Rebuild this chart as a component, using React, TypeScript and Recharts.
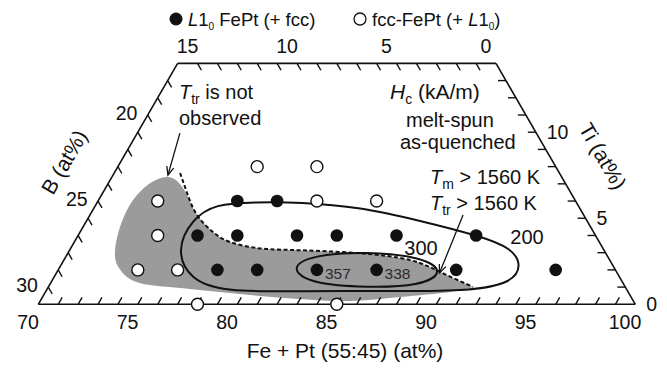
import { ComposedChart, XAxis, YAxis, Scatter, Line, ReferenceLine } from 'recharts';

// every composition below is [Fe+Pt, Ti] in at%, B is the balance
const L10_POINTS: [number, number][] = [
  [78, 2], [80, 2], [83, 2], [86, 2], [90, 2], [95, 2],
  [76, 4], [78, 4], [81, 4], [83, 4], [86, 4], [90, 4],
  [77, 6], [79, 6],
];

const FCC_POINTS: [number, number][] = [
  [78, 0], [85, 0],
  [74, 2], [76, 2],
  [74, 4],
  [73, 6], [81, 6], [84, 6],
  [77, 8], [80, 8],
];

const HC_VALUES = [
  { fept: 83, ti: 2, hc: 357 },
  { fept: 86, ti: 2, hc: 338 },
];

// Hc contours (smoothed closed curves)
const HC_200: [number, number][] = [
  [75.34, 3.16], [75.25, 4.96], [75.97, 5.83], [77.92, 5.94], [80.18, 5.94], [83.34, 5.65],
  [86.84, 4.84], [90.21, 3.97], [92.16, 3.27], [93.19, 2.23], [93.16, 1.24], [91.31, 0.77],
  [87.79, 0.77], [82.76, 0.77], [79.02, 0.72], [76.92, 1.41],
];

const HC_300: [number, number][] = [
  [89.5, 1.88], [88.65, 1.06], [86.03, 0.98], [83.16, 1.18],
  [81.56, 2.08], [82.32, 2.87], [84.98, 3.07], [87.91, 2.75],
];

// Ttr boundary (dashed)
const TTR_BOUNDARY: [number, number][] = [
  [73.31, 7.63], [74.24, 6.47], [75.38, 5.19], [76.68, 4.2], [77.82, 3.62], [79.35, 3.27],
  [81.07, 3.16], [84.52, 2.98], [87.39, 2.57], [89.25, 1.88], [91.34, 1.01],
];

// region where Ttr is not observed (grey)
const NO_TTR_REGION: [number, number][] = [
  [91.34, 1.01], [89.25, 1.88], [87.39, 2.57], [84.52, 2.98], [81.07, 3.16], [79.35, 3.27],
  [77.82, 3.62], [76.68, 4.2], [75.38, 5.19], [74.3, 6.35], [73.47, 7.11], [72.82, 7.4],
  [72.16, 7.11], [71.73, 6.06], [71.86, 4.49], [72.36, 2.98], [73.0, 2.11], [73.87, 1.47],
  [75.05, 1.12], [77.18, 0.89], [80.37, 0.54], [83.0, 0.31], [85.57, 0.19], [87.96, 0.42],
  [90.33, 0.72], [91.34, 1.01],
];

const ARROW_NOT_OBSERVED: [number, number][] = [[72.14, 9.95], [72.76, 7.51]];
const ARROW_TTR: [number, number][] = [[88.75, 5.19], [89.25, 1.82]];

// tick labels
const FEPT_LABELS = [70, 75, 80, 85, 90, 95, 100];
const B_LEFT_LABELS = [20, 25, 30];
const B_TOP_LABELS = [15, 10, 5, 0];
const TI_LABELS = [0, 5, 10];

const FEPT_MIN = 70;
const TI_MAX = 14;
const TICK = 0.4;

const W = 667;
const H = 369;
const X_DOMAIN: [number, number] = [68.075, 101.593];
const Y_DOMAIN: [number, number] = [-3.759, 17.682];
const FONT = '"Liberation Sans", Arial, Helvetica, sans-serif';
const INK = '#111';

// ternary -> plot coordinates (equilateral grid)
const comp = (fept: number, ti: number) => ({ x: fept + ti / 2, y: ti });
const toData = (pts: [number, number][]) => pts.map(([f, t]) => comp(f, t));

const frame = [comp(70, 0), comp(100, 0), comp(100 - TI_MAX, TI_MAX), comp(FEPT_MIN, TI_MAX)];

// minor ticks every 1 at%, each pointing inward along its grid line
const tickSegs: { x: number; y: number }[][] = [];
for (let f = 71; f < 100; f++) tickSegs.push([comp(f, 0), comp(f, TICK)]);
for (let t = 1; t < TI_MAX; t++) tickSegs.push([comp(FEPT_MIN, t), comp(FEPT_MIN + TICK, t - TICK)]);
for (let b = 1; b < 100 - FEPT_MIN - TI_MAX; b++) {
  const f = 100 - b - TI_MAX;
  tickSegs.push([comp(f, TI_MAX), comp(f + TICK, TI_MAX - TICK)]);
}
for (let t = 1; t < TI_MAX; t++) tickSegs.push([comp(100 - t, t), comp(100 - t - TICK, t)]);

const bottomLabels = FEPT_LABELS.map((f) => ({ ...comp(f, -1.03), label: f }));
const leftLabels = B_LEFT_LABELS.map((b) => {
  const t = 100 - FEPT_MIN - b;
  return { ...comp(FEPT_MIN - 1.13, t + 1.13), label: b };
});
const topLabels = B_TOP_LABELS.map((b) => ({ ...comp(100 - b - TI_MAX - 1, TI_MAX + 1), label: b }));
const rightLabels = TI_LABELS.map((t) => ({ ...comp(100 - t + 0.55, t), label: t }));

const textShape = (anchor: 'start' | 'middle' | 'end') => (p: any) => (
  <text x={p.cx} y={p.cy} textAnchor={anchor} dominantBaseline="central" fontSize={19.5} fill={INK} fontFamily={FONT}>
    {p.payload.label}
  </text>
);

const arrowDot = (p: any) => {
  if (p.index !== 1 || !p.points || p.points.length < 2) return <g key={`a-${p.index}`} />;
  const a = p.points[0];
  const ang = Math.atan2(p.cy - a.y, p.cx - a.x);
  const len = 9;
  const spread = 0.4;
  const x1 = p.cx - len * Math.cos(ang - spread);
  const y1 = p.cy - len * Math.sin(ang - spread);
  const x2 = p.cx - len * Math.cos(ang + spread);
  const y2 = p.cy - len * Math.sin(ang + spread);
  return (
    <path key={`a-${p.index}`} d={`M${x1},${y1}L${p.cx},${p.cy}L${x2},${y2}`} fill="none" stroke={INK} strokeWidth={1.3} />
  );
};

export default function App() {
  return (
    <div style={{ position: 'absolute', left: 0, top: 0, width: W, height: H, background: '#fff', fontFamily: FONT }}>
      <style>{`.no-ttr path.recharts-curve { fill: #9b9b9b; stroke: none; }`}</style>
      <ComposedChart width={W} height={H} margin={{ top: 0, right: 0, bottom: 0, left: 0 }}>
        <XAxis type="number" dataKey="x" domain={X_DOMAIN} allowDataOverflow hide />
        <YAxis type="number" dataKey="y" domain={Y_DOMAIN} allowDataOverflow hide />

        <Line data={toData(NO_TTR_REGION)} dataKey="y" type="natural" className="no-ttr" stroke="none"
          dot={false} activeDot={false} isAnimationActive={false} />
        <Line data={toData(HC_200)} dataKey="y" type="basisClosed" stroke={INK} strokeWidth={2}
          dot={false} activeDot={false} isAnimationActive={false} />
        <Line data={toData(HC_300)} dataKey="y" type="basisClosed" stroke={INK} strokeWidth={2}
          dot={false} activeDot={false} isAnimationActive={false} />
        <Line data={toData(TTR_BOUNDARY)} dataKey="y" type="natural" stroke={INK} strokeWidth={2}
          strokeDasharray="4 2.5" dot={false} activeDot={false} isAnimationActive={false} />
        <Line data={toData(ARROW_NOT_OBSERVED)} dataKey="y" type="linear" stroke={INK} strokeWidth={1.3}
          dot={arrowDot} activeDot={false} isAnimationActive={false} />
        <Line data={toData(ARROW_TTR)} dataKey="y" type="linear" stroke={INK} strokeWidth={1.3}
          dot={arrowDot} activeDot={false} isAnimationActive={false} />

        {tickSegs.map((s, i) => (
          <Line key={`tick${i}`} data={s} dataKey="y" type="linear" stroke={INK} strokeWidth={1.4}
            dot={false} activeDot={false} isAnimationActive={false} />
        ))}

        {frame.map((p, i) => (
          <ReferenceLine key={`f${i}`} segment={[p, frame[(i + 1) % frame.length]]} stroke={INK}
            strokeWidth={1.6} ifOverflow="visible" />
        ))}

        <Scatter data={FCC_POINTS.map(([f, t]) => comp(f, t))} isAnimationActive={false}
          shape={(p: any) => <circle cx={p.cx} cy={p.cy} r={6} fill="#fff" stroke={INK} strokeWidth={1.4} />} />
        <Scatter data={L10_POINTS.map(([f, t]) => comp(f, t))} isAnimationActive={false}
          shape={(p: any) => <circle cx={p.cx} cy={p.cy} r={6.3} fill={INK} />} />
        <Scatter data={HC_VALUES.map((v) => ({ ...comp(v.fept, v.ti), label: v.hc }))} isAnimationActive={false}
          shape={(p: any) => (
            <text x={p.cx + 8} y={p.cy + 3.5} dominantBaseline="central" fontSize={15.5} fill="#2a2a2a" fontFamily={FONT}>
              {p.payload.label}
            </text>
          )} />

        <Scatter data={bottomLabels} isAnimationActive={false} shape={textShape('middle')} />
        <Scatter data={leftLabels} isAnimationActive={false} shape={textShape('middle')} />
        <Scatter data={topLabels} isAnimationActive={false} shape={textShape('middle')} />
        <Scatter data={rightLabels} isAnimationActive={false} shape={textShape('start')} />
      </ComposedChart>

      <svg width={W} height={H} style={{ position: 'absolute', left: 0, top: 0, pointerEvents: 'none' }}
        fontFamily={FONT} fill={INK}>
        {/* legend */}
        <circle cx={176} cy={19} r={6.5} fill={INK} />
        <text x={188} y={25.5} fontSize={18.5}>
          <tspan fontStyle="italic">L</tspan>1<tspan fontSize={10} dy={4}>0</tspan>
          <tspan dy={-4}> FePt (+ fcc)</tspan>
        </text>
        <circle cx={360} cy={19} r={6} fill="#fff" stroke={INK} strokeWidth={1.3} />
        <text x={372} y={25.5} fontSize={18.5}>
          fcc-FePt (+ <tspan fontStyle="italic">L</tspan>1<tspan fontSize={10} dy={4}>0</tspan>
          <tspan dy={-4}>)</tspan>
        </text>

        {/* annotations */}
        <text x={179} y={99} fontSize={20}>
          <tspan fontStyle="italic">T</tspan><tspan fontSize={14} dy={5}>tr</tspan>
          <tspan dy={-5}> is not</tspan>
        </text>
        <text x={179} y={125} fontSize={20}>observed</text>

        <text x={390} y={99} fontSize={21}>
          <tspan fontStyle="italic">H</tspan><tspan fontSize={14} dy={5}>c</tspan>
          <tspan dy={-5}> (kA/m)</tspan>
        </text>
        <text x={406} y={127} fontSize={20}>melt-spun</text>
        <text x={400} y={149} fontSize={20}>as-quenched</text>

        <text x={430} y={184} fontSize={20}>
          <tspan fontStyle="italic">T</tspan><tspan fontSize={14} dy={5}>m</tspan>
          <tspan dy={-5}> &gt; 1560 K</tspan>
        </text>
        <text x={430} y={210} fontSize={20}>
          <tspan fontStyle="italic">T</tspan><tspan fontSize={14} dy={5}>tr</tspan>
          <tspan dy={-5}> &gt; 1560 K</tspan>
        </text>

        <text x={421} y={255} fontSize={20} textAnchor="middle">300</text>
        <text x={527} y={244} fontSize={20} textAnchor="middle">200</text>

        {/* axis titles */}
        <text x={345} y={358} fontSize={21} textAnchor="middle">Fe + Pt (55:45) (at%)</text>
        <text transform="translate(64,162) rotate(-60)" fontSize={21} textAnchor="middle" dominantBaseline="central">
          B (at%)
        </text>
        <text transform="translate(603,156) rotate(60)" fontSize={21} textAnchor="middle" dominantBaseline="central">
          Ti (at%)
        </text>
      </svg>
    </div>
  );
}
